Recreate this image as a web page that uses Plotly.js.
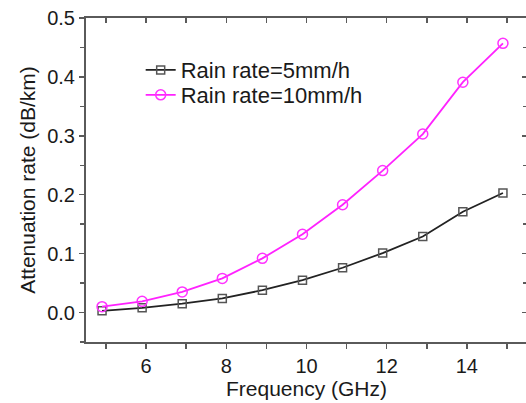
<!DOCTYPE html>
<html>
<head>
<meta charset="utf-8">
<script src="https://cdn.plot.ly/plotly-3.0.1.min.js"></script>
<style>html,body{margin:0;padding:0;overflow:hidden;background:#fff}</style>
</head>
<body>
<div id="chart" style="width:530px;height:403px"></div>
<script>
const frequency = [4.9, 5.9, 6.9, 7.9, 8.9, 9.9, 10.9, 11.9, 12.9, 13.9, 14.9];
const rain5 = [0.003, 0.008, 0.015, 0.024, 0.038, 0.055, 0.076, 0.101, 0.129, 0.171, 0.203];
const rain10 = [0.010, 0.019, 0.035, 0.058, 0.092, 0.133, 0.183, 0.241, 0.303, 0.391, 0.457];
const seriesNames = ["Rain rate=5mm/h", "Rain rate=10mm/h"];
const xTicks = [6, 8, 10, 12, 14];
const yTicks = [0.0, 0.1, 0.2, 0.3, 0.4, 0.5];
const yTickLabels = ["0.0", "0.1", "0.2", "0.3", "0.4", "0.5"];

const axisColor = "#5a5a5a";
const fontFam = "Liberation Sans, Arial, sans-serif";
const xr = [4.5, 15.5], yr = [-0.05, 0.5];

const traces = [
  {x: frequency, y: rain5, name: seriesNames[0], mode: "lines+markers", legend: "legend",
   line: {color: "#222222", width: 1.8},
   marker: {symbol: "square-open", size: 8, color: "#555555", line: {width: 1.5, color: "#555555"}}},
  {x: frequency, y: rain10, name: seriesNames[1], mode: "lines+markers", legend: "legend2",
   line: {color: "#ff22ff", width: 1.8},
   marker: {symbol: "circle-open", size: 10, color: "#ff33ff", line: {width: 1.5, color: "#ff33ff"}}}
];

const legendFont = {size: 22, color: "#1a1a1a", family: fontFam};
const layout = {
  width: 530, height: 403,
  margin: {l: 86, r: 3, t: 18, b: 61},
  paper_bgcolor: "#fff", plot_bgcolor: "#fff",
  font: {family: fontFam, size: 20, color: "#1a1a1a"},
  showlegend: true,
  legend: {x: 0.124, y: 0.904, xanchor: "left", yanchor: "top", bgcolor: "rgba(0,0,0,0)", font: legendFont},
  legend2: {x: 0.124, y: 0.827, xanchor: "left", yanchor: "top", bgcolor: "rgba(0,0,0,0)", font: legendFont},
  xaxis: {range: xr, tickvals: xTicks, ticks: "outside", ticklen: 5, tickwidth: 1.5, tickcolor: axisColor,
          showline: true, linecolor: axisColor, linewidth: 2, showgrid: false, zeroline: false,
          minor: {dtick: 1, tick0: 5, ticks: "outside", ticklen: 5, tickwidth: 1.5, tickcolor: axisColor},
          tickfont: {size: 20}, title: {text: "Frequency (GHz)", font: {size: 21}, standoff: 4}},
  yaxis: {range: yr, tickvals: yTicks, ticktext: yTickLabels, ticks: "outside", ticklen: 5, tickwidth: 1.5, tickcolor: axisColor,
          showline: true, linecolor: axisColor, linewidth: 2, showgrid: false, zeroline: false,
          minor: {dtick: 0.05, tick0: -0.05, ticks: "outside", ticklen: 4, tickwidth: 1.5, tickcolor: axisColor},
          tickfont: {size: 20}, title: {text: "Attenuation rate (dB/km)", font: {size: 21}, standoff: 6}},
  xaxis2: {overlaying: "x", side: "top", range: xr, tickvals: xTicks, ticks: "inside", ticklen: 5, tickwidth: 1.5,
           tickcolor: axisColor, showticklabels: false, showline: true, linecolor: axisColor, linewidth: 2,
           showgrid: false, zeroline: false,
           minor: {dtick: 1, tick0: 5, ticks: "inside", ticklen: 5, tickwidth: 1.5, tickcolor: axisColor}},
  yaxis2: {overlaying: "y", side: "right", range: yr, tickvals: yTicks, ticks: "inside", ticklen: 5, tickwidth: 1.5,
           tickcolor: axisColor, showticklabels: false, showline: true, linecolor: axisColor, linewidth: 2,
           showgrid: false, zeroline: false,
           minor: {dtick: 0.05, tick0: -0.05, ticks: "inside", ticklen: 4, tickwidth: 1.5, tickcolor: axisColor}}
};

// invisible trace to activate the mirrored axes
traces.push({x: [frequency[0]], y: [rain5[0]], xaxis: "x2", yaxis: "y2", mode: "markers",
             marker: {opacity: 0}, showlegend: false, hoverinfo: "skip"});

Plotly.newPlot("chart", traces, layout, {displayModeBar: false, staticPlot: true});
</script>
</body>
</html>
